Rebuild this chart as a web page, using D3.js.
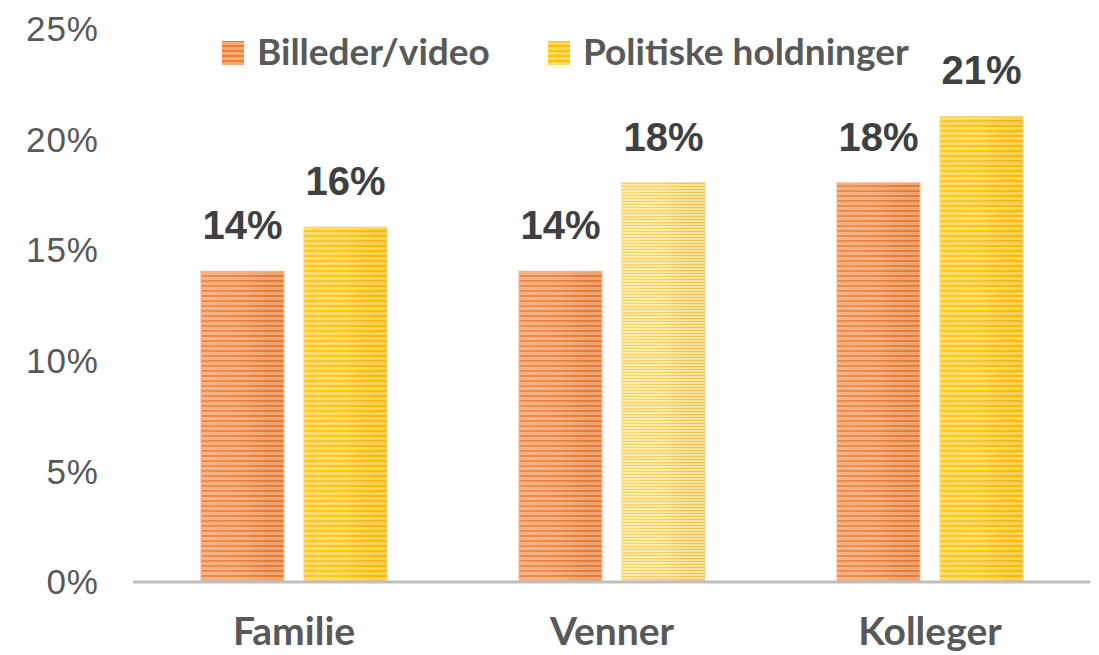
<!DOCTYPE html>
<html><head><meta charset="utf-8">
<script src="https://cdn.jsdelivr.net/npm/d3@7/dist/d3.min.js"></script>
<style>body{margin:0;background:#fff}svg{display:block}</style>
</head><body>
<svg id="c" width="1099" height="655"></svg>
<script>
const categories = ["Familie", "Venner", "Kolleger"];
const seriesNames = ["Billeder/video", "Politiske holdninger"];
const billeder = [14, 14, 18];
const politiske = [16, 18, 21];
const yTicks = [0, 5, 10, 15, 20, 25];

const svg = d3.select("#c");
const defs = svg.append("defs");

function stripes(id, h, light, dark, darkH) {
  const p = defs.append("pattern").attr("id", id).attr("patternUnits", "userSpaceOnUse")
    .attr("width", 10).attr("height", h);
  p.append("rect").attr("width", 10).attr("height", h).attr("fill", light);
  p.append("rect").attr("y", 0).attr("width", 10).attr("height", darkH).attr("fill", dark);
}
stripes("pOr", 5, "#f5aa78", "#ee7d34", 2);
stripes("pYe", 5, "#ffd95a", "#ffc000", 2);
stripes("pYe2", 3, "#fdeaa5", "#f8c94a", 1);
const g = defs.append("linearGradient").attr("id", "sheen").attr("x1", 0).attr("x2", 1);
g.append("stop").attr("offset", 0).attr("stop-color", "#fff").attr("stop-opacity", 0.12);
g.append("stop").attr("offset", 0.5).attr("stop-color", "#fff").attr("stop-opacity", 0.08);
g.append("stop").attr("offset", 1).attr("stop-color", "#000").attr("stop-opacity", 0.03);

const x0 = 135, x1 = 1089;
const y = d3.scaleLinear().domain([0, 25]).range([581, 28]);
const xc = d3.scaleBand().domain(categories).range([x0, x1]);
const groupW = 186;
const xs = d3.scaleBand().domain([0, 1]).range([0, groupW]).paddingInner(0.195);

// y tick labels
const yAxis = d3.axisLeft(y).tickValues(yTicks).tickFormat(d => d + "%").tickSize(0).tickPadding(0);
const ya = svg.append("g").attr("transform", "translate(99,0)").call(yAxis);
ya.select(".domain").remove();
ya.selectAll("text").attr("font-family", "Arial, 'Liberation Sans', sans-serif")
  .attr("font-size", 35).attr("letter-spacing", 1).attr("fill", "#595959").attr("dy", "0.36em");

const pats = [["pOr", "pOr", "pOr"], ["pYe", "pYe2", "pYe"]];
const data = [billeder, politiske];
data.forEach((vals, s) => {
  vals.forEach((v, i) => {
    const bx = xc(categories[i]) + (xc.bandwidth() - groupW) / 2 + xs(s);
    const bw = xs.bandwidth();
    svg.append("rect").attr("x", bx).attr("y", y(v)).attr("width", bw).attr("height", y(0) - y(v))
      .attr("fill", `url(#${pats[s][i]})`);
    svg.append("rect").attr("x", bx).attr("y", y(v)).attr("width", bw).attr("height", y(0) - y(v))
      .attr("fill", "url(#sheen)").attr("stroke", s ? "#f2d27a" : "#f0b48c").attr("stroke-width", 1);
    svg.append("text").attr("x", bx + bw / 2).attr("y", y(v) - 32).attr("text-anchor", "middle")
      .attr("font-family", "Arial, 'Liberation Sans', sans-serif").attr("font-weight", "bold")
      .attr("font-size", 40).attr("fill", "#404040").text(v + "%");
  });
});

// baseline
svg.append("line").attr("x1", 133).attr("x2", 1090).attr("y1", y(0) + 1).attr("y2", y(0) + 1)
  .attr("stroke", "#bfbfbf").attr("stroke-width", 3);

// category labels
const xAxis = d3.axisBottom(xc).tickSize(0).tickPadding(0);
const xa = svg.append("g").attr("transform", `translate(0,${y(0)})`).call(xAxis);
xa.select(".domain").remove();
xa.selectAll("text").attr("y", 64).attr("dy", 0).attr("font-family", "Lato, 'Open Sans', sans-serif")
  .attr("font-weight", "bold").attr("font-size", 39).attr("fill", "#595959");

// legend
const legX = [222, 548];
seriesNames.forEach((n, s) => {
  svg.append("rect").attr("x", legX[s]).attr("y", 41).attr("width", 22).attr("height", 24)
    .attr("fill", `url(#${s ? "pYe" : "pOr"})`);
  svg.append("text").attr("x", legX[s] + 35).attr("y", 65).attr("font-family", "Lato, 'Open Sans', sans-serif")
    .attr("font-weight", "bold").attr("font-size", 37).attr("fill", "#595959").text(n);
});
</script>
</body></html>
